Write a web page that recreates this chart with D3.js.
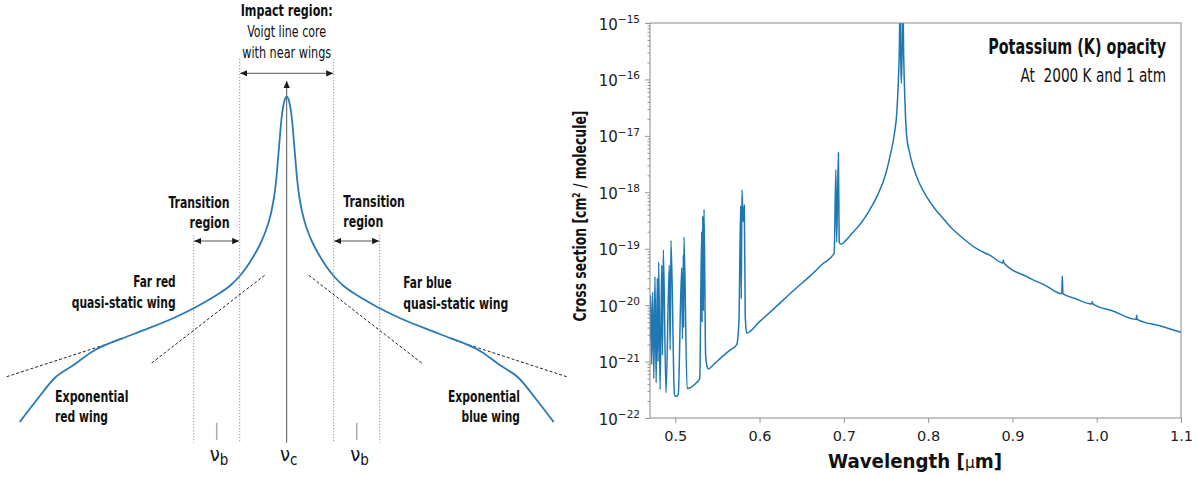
<!DOCTYPE html>
<html><head><meta charset="utf-8">
<script src="https://cdn.jsdelivr.net/npm/d3@7"></script>
<style>
body{margin:0;background:#fff;}
svg{display:block;}
.cond{font-family:"DejaVu Sans Condensed","Liberation Sans Narrow",sans-serif;font-stretch:condensed;fill:#111;}
.tick-lab{font-family:"DejaVu Sans",sans-serif;fill:#222;}
</style></head><body>
<svg id="c" width="1198" height="477"></svg>
<script>
// ---------------- Left schematic: line profile (offset from line centre, height) ----------------
const profileOffset = [0,1.5,3,4.5,6,7.5,9,10.5,12.5,15,18,21,26,33,40,47,57,70,87,113,153,195,213,232,250,267];
const profileHeight = [345.3,343.5,338,329,315,297,279,262,246,232,220,211,199,186,175,166,156,147,137,124,108,90,77,64,42,20];
// tangent (dashed) guide lines: [offset, height] end points
const nearWingTangent = {offset:[135,21.7], height:[79,167]};
const farWingTangent  = {offset:[280,165],  height:[65.3,102.7]};
const impactHalfWidth = 47;      // edge of impact region (offset units)
const transitionOuter = 93;      // outer edge of transition region
const nuBOffset = 70;            // position of nu_b

// ---------------- Right chart: Potassium cross section ----------------
const wavelength = [
 0.4700,0.4708,0.4718,0.4732,0.4745,0.4759,0.4773,0.4787,0.4795,0.4803,0.4820,0.4839,0.4848,0.4858,
 0.4890,0.4929,0.4939,0.4949,0.4990,0.5010,0.5035,0.5076,0.5085,0.5095,0.5099,0.5103,
 0.5140,0.5170,0.5200,0.5250,0.5290,0.5313,0.5318,0.5325,0.5333,0.5341,0.5360,0.5380,0.5392,
 0.5450,0.5550,0.5650,0.5729,0.5755,0.5776,0.5783,0.5791,0.5805,0.5819,0.5830,0.5847,
 0.6000,0.6200,0.6400,0.6600,0.6750,0.6885,0.6905,0.6915,0.6935,0.6945,0.6965,
 0.7000,0.7100,0.7200,0.7300,0.7400,0.7500,0.7550,0.7600,0.7630,0.7650,0.7660,0.7665,0.7675,0.7682,0.7690,0.7699,
 0.7710,0.7725,0.7745,0.7780,0.7824,0.7900,0.7983,0.8080,0.8180,0.8280,0.8378,0.8576,0.8750,
 0.8885,0.8892,0.8899,0.9169,0.9400,0.9585,0.9592,0.9599,0.9750,0.9940,0.9947,0.9954,
 1.0200,1.0468,1.0474,1.0480,1.0750,1.1000];
const crossSection = [
 2.5e-21,1.5e-20,8.9e-22,1.7e-20,5.0e-22,3.2e-20,4.2e-22,3.0e-20,1.0e-21,5.8e-20,3.2e-22,5.1e-20,1.3e-21,9.5e-20,
 2.8e-22,5.1e-20,1.6e-21,1.4e-19,2.6e-22,2.4e-22,2.6e-22,4.6e-20,2.5e-21,7.8e-20,4.0e-21,1.6e-19,
 3.3e-22,3.4e-22,3.6e-22,4.2e-22,5.0e-22,2.0e-19,5.0e-21,3.8e-19,7.9e-21,5.0e-19,1.3e-21,7.9e-22,7.4e-22,
 8.7e-22,1.2e-21,1.6e-21,2.0e-21,5.0e-21,5.8e-19,1.3e-20,1.1e-18,3.0e-19,5.9e-19,6.3e-21,3.2e-21,
 5.1e-21,9.5e-21,1.8e-20,3.3e-20,5.4e-20,8.3e-20,2.5e-18,1.3e-19,5.0e-18,1.3e-19,1.2e-19,
 1.3e-19,1.9e-19,2.8e-19,4.7e-19,8.9e-19,2.2e-18,4.5e-18,1.1e-17,2.8e-17,1.3e-16,5.0e-16,3.2e-15,2.5e-16,8.5e-17,2.5e-16,3.2e-15,
 2.5e-16,4.0e-17,1.0e-17,5.0e-18,2.8e-18,1.4e-18,8.3e-19,5.1e-19,3.4e-19,2.3e-19,1.7e-19,1.0e-19,7.4e-20,
 5.6e-20,6.3e-20,5.6e-20,3.2e-20,2.2e-20,1.6e-20,3.3e-20,1.6e-20,1.3e-20,1.05e-20,1.15e-20,1.05e-20,
 7.8e-21,5.6e-21,6.6e-21,5.6e-21,4.3e-21,3.3e-21];
const xTicks = [0.5,0.6,0.7,0.8,0.9,1.0,1.1];
const xTickLabels = ["0.5","0.6","0.7","0.8","0.9","1.0","1.1"];
const yExponents = [-22,-21,-20,-19,-18,-17,-16,-15];

const svg = d3.select("#c");
const defs = svg.append("defs");
defs.append("marker").attr("id","ah").attr("viewBox","0 0 10 10").attr("refX",10).attr("refY",5)
  .attr("markerWidth",7).attr("markerHeight",7).attr("orient","auto-start-reverse").attr("markerUnits","userSpaceOnUse")
  .append("path").attr("d","M0,0.5 L10,5 L0,9.5 Z").attr("fill","#1a1a1a");

// ================= LEFT PANEL =================
const L = svg.append("g");
const xs = d3.scaleLinear().domain([-280,280]).range([6.7,566.7]);
const ys = d3.scaleLinear().domain([0,345.3]).range([442,96.7]);

const prof = [];
for (let i = profileOffset.length-1; i > 0; i--) prof.push([-profileOffset[i], profileHeight[i]]);
for (let i = 0; i < profileOffset.length; i++) prof.push([profileOffset[i], profileHeight[i]]);

const dotted = (off, top) => L.append("line").attr("x1",xs(off)).attr("x2",xs(off))
  .attr("y1",top).attr("y2",ys(-0.7)).attr("stroke","#9a9a9a").attr("stroke-width",1).attr("stroke-dasharray","1.3,1.7");
dotted(-transitionOuter, 235); dotted(transitionOuter, 235);
dotted(-impactHalfWidth, 59); dotted(impactHalfWidth, 59);

[-nuBOffset, nuBOffset].forEach(o => L.append("line").attr("x1",xs(o)).attr("x2",xs(o))
  .attr("y1",ys(19.3)).attr("y2",ys(2)).attr("stroke","#aaa").attr("stroke-width",1.5));

L.append("line").attr("x1",xs(0)).attr("x2",xs(0)).attr("y1",ys(-0.7)).attr("y2",81)
  .attr("stroke","#555").attr("stroke-width",1).attr("marker-end","url(#ah)");

[nearWingTangent, farWingTangent].forEach(t => {
  [-1,1].forEach(s => L.append("line")
    .attr("x1",xs(s*t.offset[0])).attr("y1",ys(t.height[0]))
    .attr("x2",xs(s*t.offset[1])).attr("y2",ys(t.height[1]))
    .attr("stroke","#222").attr("stroke-width",1).attr("stroke-dasharray","3,2"));
});

L.append("path").datum(prof)
  .attr("d", d3.line().x(d=>xs(d[0])).y(d=>ys(d[1])).curve(d3.curveMonotoneX))
  .attr("fill","none").attr("stroke","#2a7ab8").attr("stroke-width",1.8);

const arrow = (x1,x2,y) => L.append("line").attr("x1",x1).attr("x2",x2).attr("y1",y).attr("y2",y)
  .attr("stroke","#555").attr("stroke-width",1).attr("marker-start","url(#ah)").attr("marker-end","url(#ah)");
arrow(xs(-impactHalfWidth)+0.5, xs(impactHalfWidth)-0.5, 73.3);
arrow(xs(-transitionOuter)+0.5, xs(-impactHalfWidth)-0.5, 241);
arrow(xs(impactHalfWidth)+0.5, xs(transitionOuter)-0.5, 241);

const txt = (x,y,s,anchor,bold,w,size) => L.append("text").attr("class","cond").attr("x",x).attr("y",y)
  .attr("text-anchor",anchor).attr("font-weight",bold?"bold":"normal").attr("font-size",size||15.5)
  .attr("textLength",w).attr("lengthAdjust","spacingAndGlyphs").text(s);
txt(286.7,15.7,"Impact region:","middle",true,92);
txt(286.7,37,"Voigt line core","middle",false,79);
txt(286.7,58,"with near wings","middle",false,89);
txt(229.5,208,"Transition","end",true,61);
txt(229.5,228,"region","end",true,40);
txt(343.3,206.5,"Transition","start",true,61.5);
txt(343.3,226.5,"region","start",true,40);
txt(175.7,287,"Far red","end",true,42.5);
txt(175.7,308,"quasi-static wing","end",true,104);
txt(403.3,288,"Far blue","start",true,48.5);
txt(403.3,309,"quasi-static wing","start",true,105);
txt(55,401.5,"Exponential","start",true,73.5);
txt(55,421.5,"red wing","start",true,53);
txt(520,401.5,"Exponential","end",true,72);
txt(520,422,"blue wing","end",true,58.5);
const nu = (x, sub) => { const t = L.append("text").attr("class","cond").attr("x",x).attr("y",461).attr("font-size",20);
  t.append("tspan").text("ν"); t.append("tspan").attr("font-size",15).attr("dy",3.5).text(sub); };
nu(xs(-nuBOffset)-7,"b"); nu(xs(0)-6.7,"c"); nu(xs(nuBOffset)-6.5,"b");

// ================= RIGHT PANEL =================
const R = svg.append("g");
const x = d3.scaleLinear().domain([0.47,1.1]).range([650,1181]);
const y = d3.scaleLog().domain([1e-22,1e-15]).range([418,23]);
defs.append("clipPath").attr("id","clipR").append("rect").attr("x",650).attr("y",23).attr("width",531).attr("height",395);

const pts = wavelength.map((w,i)=>[w,crossSection[i]]);
R.append("path").datum(pts).attr("clip-path","url(#clipR)")
  .attr("d", d3.line().x(d=>x(d[0])).y(d=>y(d[1])).curve(d3.curveMonotoneX))
  .attr("fill","none").attr("stroke","#1f77b4").attr("stroke-width",1.5);

const spine = "#8a8a8a";
const minor = [];
yExponents.slice(0,-1).forEach(e => { for (let k=2;k<10;k++) minor.push(k*Math.pow(10,e)); });
const gy = R.append("g").attr("transform","translate(650,0)");
gy.call(d3.axisLeft(y).tickValues(minor).tickSize(2.5).tickFormat(""));
gy.select(".domain").remove();
const gyM = R.append("g").attr("transform","translate(650,0)");
gyM.call(d3.axisLeft(y).tickValues(yExponents.map(e=>Math.pow(10,e))).tickSize(5).tickFormat(""));
gyM.select(".domain").remove();
R.selectAll(".tick line").attr("stroke",spine).attr("stroke-width",0.9);
yExponents.forEach(e => {
  const t = R.append("text").attr("class","tick-lab").attr("x",640).attr("y",y(Math.pow(10,e))+6.5)
    .attr("text-anchor","end").attr("font-size",15);
  t.append("tspan").text("10");
  t.append("tspan").attr("font-size",10.5).attr("dy",-6.5).text("\u2212"+Math.abs(e));
});
const gx = R.append("g").attr("transform","translate(0,418)");
gx.call(d3.axisBottom(x).tickValues(xTicks).tickSize(5).tickFormat((d,i)=>xTickLabels[i]));
gx.select(".domain").remove();
gx.selectAll(".tick line").attr("stroke",spine).attr("stroke-width",0.9);
gx.selectAll(".tick text").attr("class","tick-lab").attr("font-size",14.5).attr("dy","1.05em").attr("fill","#222");

R.append("rect").attr("x",650).attr("y",23).attr("width",531).attr("height",395)
  .attr("fill","none").attr("stroke",spine).attr("stroke-width",1);

R.append("text").attr("class","cond").attr("x",915).attr("y",468).attr("text-anchor","middle")
  .attr("font-weight","bold").attr("font-size",19).attr("textLength",174).attr("lengthAdjust","spacingAndGlyphs")
  .call(t=>{t.append("tspan").text("Wavelength [");t.append("tspan").text("μ").attr("font-family","DejaVu Sans").attr("font-weight","normal").attr("font-size",16);t.append("tspan").text("m]");});
R.append("text").attr("class","cond").attr("transform","translate(586,216) rotate(-90)").attr("text-anchor","middle")
  .attr("font-weight","bold").attr("font-size",18).attr("textLength",211).attr("lengthAdjust","spacingAndGlyphs")
  .call(t=>{t.append("tspan").text("Cross section [cm");t.append("tspan").text("2").attr("font-size",11).attr("dy",-6);
            t.append("tspan").text(" / molecule]").attr("dy",6);});
R.append("g").attr("transform","translate(1166,53.5) scale(0.76,1)")
  .append("text").attr("class","cond").attr("x",0).attr("y",0).attr("text-anchor","end")
  .attr("font-weight","bold").attr("font-size",21).text("Potassium (K) opacity");
R.append("g").attr("transform","translate(1166,82) scale(0.8,1)")
  .append("text").attr("class","cond").attr("x",0).attr("y",0).attr("text-anchor","end")
  .attr("font-size",19).attr("xml:space","preserve").text("At  2000 K and 1 atm");
</script>
</body></html>
